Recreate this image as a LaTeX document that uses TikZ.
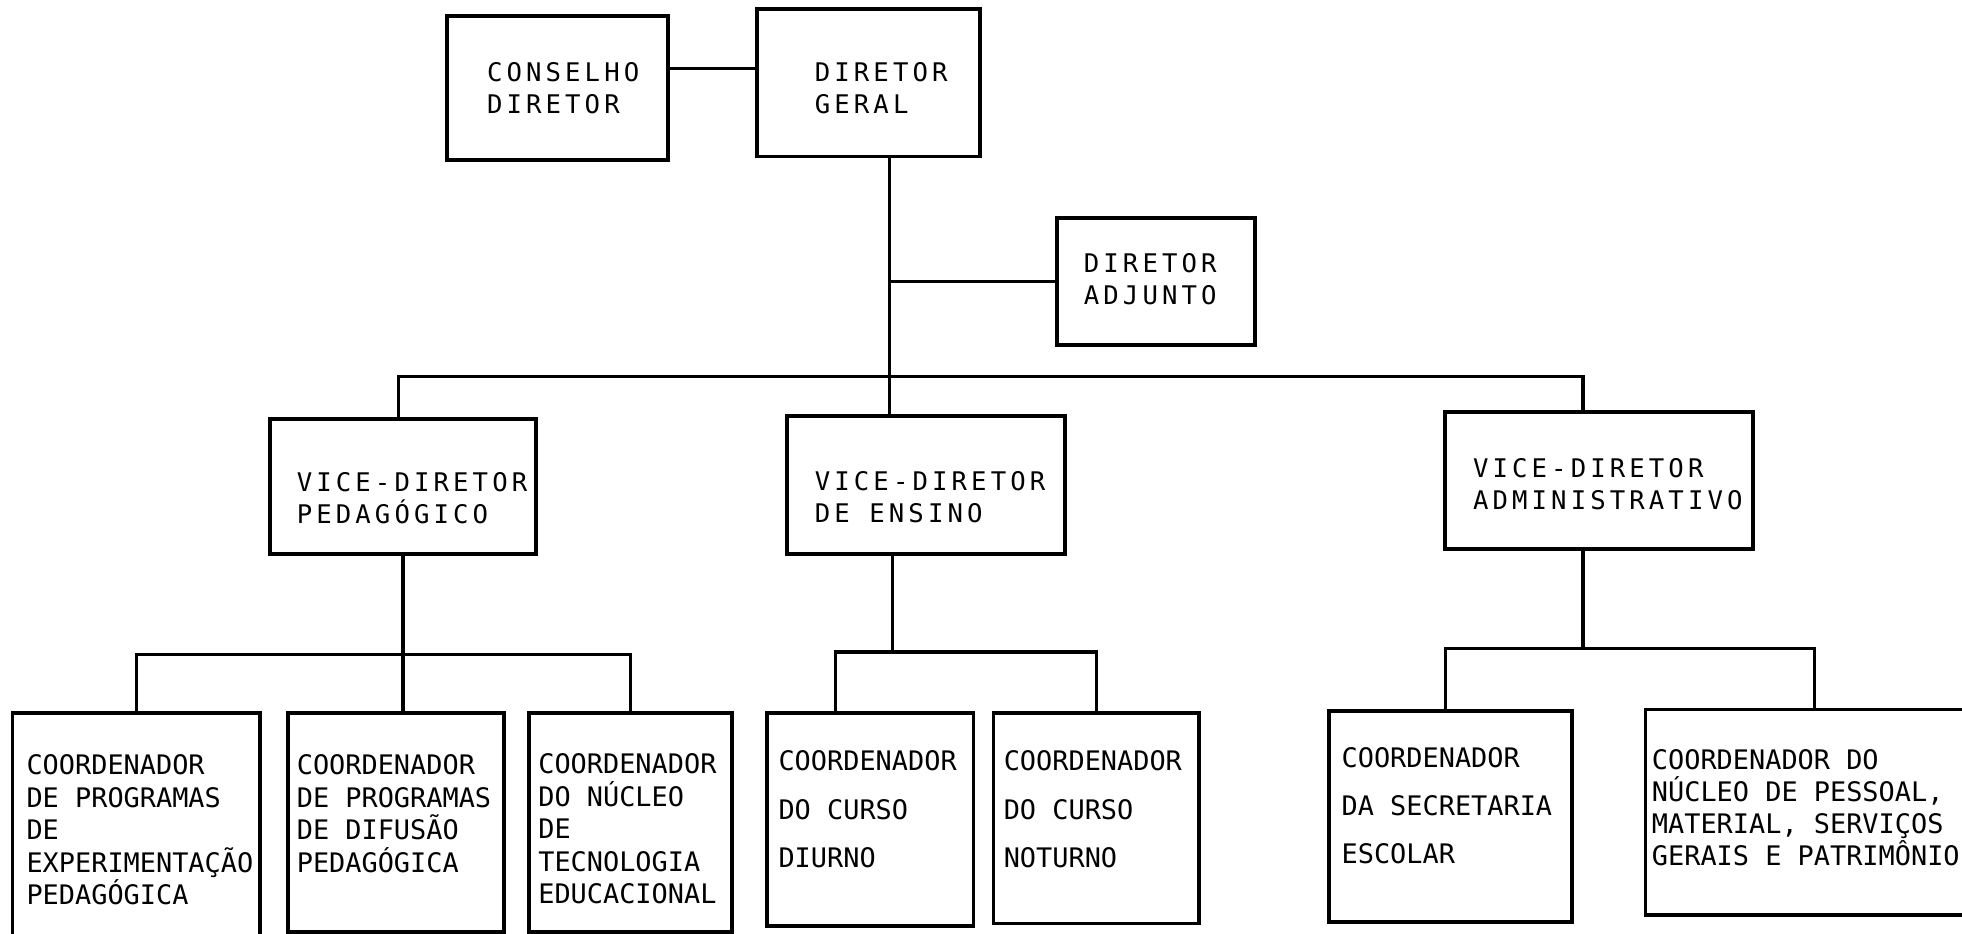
\documentclass[tikz,border=0pt]{standalone}
\usepackage{fontspec}
\newfontfamily\plotfont[LetterSpace=16]{DejaVu Sans Mono}
\newfontfamily\typefont{DejaVu Sans Mono}
\usetikzlibrary{positioning}

\tikzset{
  unit/.style 2 args={draw, rectangle, line width=3pt, inner sep=0pt,
    minimum width=#1, minimum height=#2},
  tie/.style={line width=2.6pt},
  upper/.style={anchor=north west, inner sep=0pt, align=left,
    font=\plotfont\fontsize{20.5}{25.5}\selectfont},
  lower/.style={anchor=north west, inner sep=0pt, align=left,
    font=\typefont\fontsize{21.5}{#1}\selectfont},
  lower/.default=26
}

\begin{document}
\begin{tikzpicture}[x=1pt,y=-1pt]
  \fill[white] (0,0) rectangle (1568,746);
  \useasboundingbox (0,0) rectangle (1568,746);

  % top level
  \node[unit={177pt}{115pt}] (conselho) at (445.5,70.5) {};
  \node[unit={178pt}{118pt}] (geral) at (694,66) {};
  \node[unit={158pt}{102pt}] (adjunto) at (924,225) {};
  \node[upper] (conselhotxt) at (389,50) {CONSELHO\\DIRETOR};
  \node[upper] (geraltxt) at (651,50) {DIRETOR\\GERAL};
  \node[upper] (adjuntotxt) at (866,202.5) {DIRETOR\\ADJUNTO};

  % vice-diretores
  \node[unit={213pt}{108pt}] (vped) at (322,389) {};
  \node[unit={222pt}{110pt}] (vens) at (740,387.5) {};
  \node[unit={246pt}{109pt}] (vadm) at (1278,384) {};
  \node[upper] (vpedtxt) at (237,377.5) {VICE-DIRETOR\\PEDAGÓGICO};
  \node[upper] (venstxt) at (651,376.5) {VICE-DIRETOR\\DE ENSINO};
  \node[upper] (vadmtxt) at (1177,366.5) {VICE-DIRETOR\\ADMINISTRATIVO};

  % coordenadores
  \node[unit={198pt}{190pt}] (b1) at (109,665) {};
  \node[unit={173pt}{175pt}] (b2) at (316.5,657.5) {};
  \node[unit={162pt}{175pt}] (b3) at (504,657.5) {};
  \node[unit={165pt}{170pt}] (b4) at (695.5,655) {};
  \node[unit={164pt}{168pt}] (b5) at (876,654) {};
  \node[unit={194pt}{169pt}] (b6) at (1159,652.5) {};
  \node[unit={275pt}{164pt}] (b7) at (1452.5,649) {};
  \node[lower] (b1txt) at (21,603) {COORDENADOR\\DE PROGRAMAS\\DE\\EXPERIMENTAÇÃO\\PEDAGÓGICA};
  \node[lower] (b2txt) at (237,603) {COORDENADOR\\DE PROGRAMAS\\DE DIFUSÃO\\PEDAGÓGICA};
  \node[lower] (b3txt) at (430,602) {COORDENADOR\\DO NÚCLEO\\DE\\TECNOLOGIA\\EDUCACIONAL};
  \node[lower=38.5] (b4txt) at (622,600) {COORDENADOR\\DO CURSO\\DIURNO};
  \node[lower=38.5] (b5txt) at (802,600) {COORDENADOR\\DO CURSO\\NOTURNO};
  \node[lower=38.5] (b6txt) at (1072,597) {COORDENADOR\\DA SECRETARIA\\ESCOLAR};
  \node[lower=25.5] (b7txt) at (1320,599) {COORDENADOR DO\\NÚCLEO DE PESSOAL,\\MATERIAL, SERVIÇOS\\GERAIS E PATRIMÔNIO};

  % connectors
  \coordinate (trunk) at ([xshift=17pt]geral.south);
  \coordinate (mainbus) at (0,301);
  \coordinate (vpedtop) at ([xshift=-3.5pt]vped.north);
  \coordinate (vadmtop) at ([xshift=-13pt]vadm.north);
  \draw[tie] ([yshift=15.5pt]conselho.east) -- ([yshift=11pt]geral.west);
  \draw[tie] (trunk) -- (trunk |- vens.north);
  \draw[tie] (trunk |- adjunto.west) -- (adjunto.west);
  \draw[tie] (vpedtop) |- (vadmtop |- mainbus) -- (vadmtop);

  \coordinate (pedbus) at (0,523);
  \draw[tie] (vped.south) -- (vped.south |- b2.north);
  \draw[tie] (b1.north) |- (b3.north |- pedbus) -- (b3.north);

  \coordinate (ensbus) at (0,521);
  \coordinate (ensdrop) at ([xshift=-26.5pt]vens.south);
  \coordinate (b4top) at ([xshift=-27.5pt]b4.north);
  \draw[tie] (ensdrop) -- (ensdrop |- ensbus);
  \draw[tie] (b4top) |- (b5.north |- ensbus) -- (b5.north);

  \coordinate (admbus) at (0,518);
  \coordinate (admdrop) at ([xshift=-13pt]vadm.south);
  \coordinate (b6top) at ([xshift=-4pt]b6.north);
  \coordinate (b7top) at ([xshift=-2.5pt]b7.north);
  \draw[tie] (admdrop) -- (admdrop |- admbus);
  \draw[tie] (b6top) |- (b7top |- admbus) -- (b7top);
\end{tikzpicture}
\end{document}
